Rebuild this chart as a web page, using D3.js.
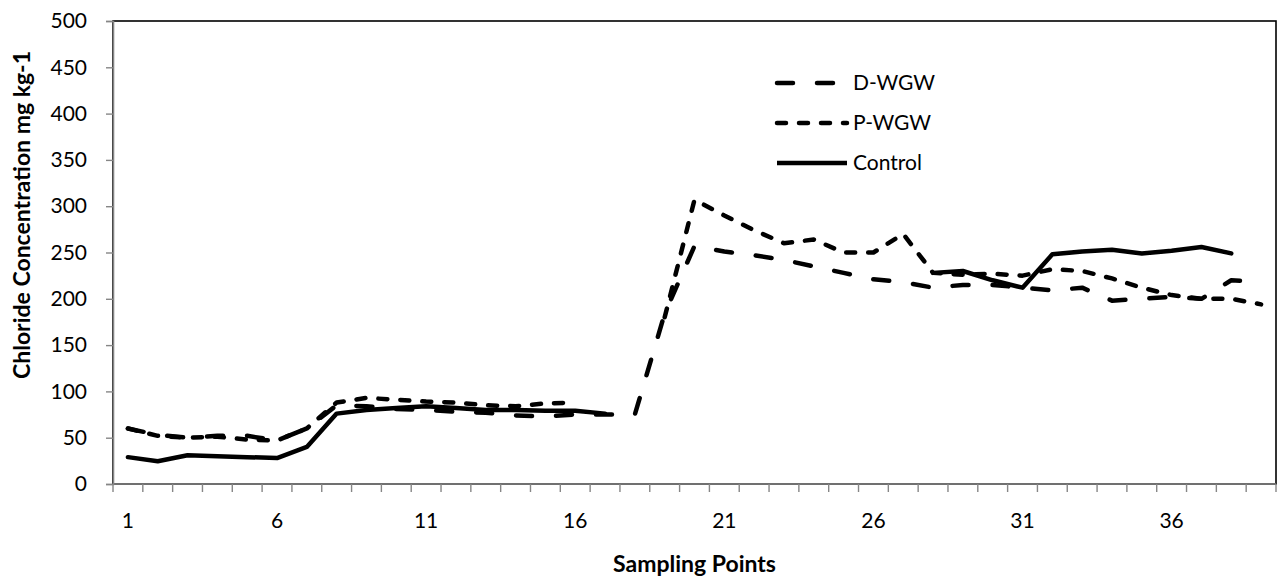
<!DOCTYPE html>
<html><head><meta charset="utf-8">
<script src="https://cdn.jsdelivr.net/npm/d3@7"></script>
<style>body{margin:0;background:#fff} svg{display:block}</style>
</head><body><svg id="c" width="1282" height="581"></svg>
<script>
const categories = [1,2,3,4,5,6,7,8,9,10,11,12,13,14,15,16,17,18,19,20,21,22,23,24,25,26,27,28,29,30,31,32,33,34,35,36,37,38,39];
const xTickLabels = [1,6,11,16,21,26,31,36];
const yTickValues = [0,50,100,150,200,250,300,350,400,450,500];
const seriesNames = ["D-WGW","P-WGW","Control"];
const dwgw = [60,53,50,52,52,47,60,85,84,81,80,78,77,74,73,75,75,75,184,257,251,247,242,235,228,221,218,212,215,215,212,209,212,198,200,202,200,220,218];
const pwgw = [60,52,50,51,48,47,60,88,93,91,89,88,85,84,87,88,null,null,180,307,290,274,260,264,250,250,270,228,226,227,225,232,230,222,212,204,200,200,194];
const control = [29,24.5,31,30,29,28,40,76,80,82,84,82,80,80,79,79,76,null,null,null,null,null,null,null,null,null,null,228,230,220,212,248,251,253,249,252,256,249,null];

const L = 113, R = 1276, T = 21, B = 484;
const svg = d3.select("#c");
const font = "Lato, 'Open Sans', sans-serif";

const x = d3.scaleBand().domain(categories).range([L, R]).paddingInner(0).paddingOuter(0);
const y = d3.scaleLinear().domain([0, 500]).range([B, T]);

// plot border
svg.append("rect").attr("x", L).attr("y", T).attr("width", R - L).attr("height", B - T)
  .attr("fill", "none").attr("stroke", "#000").attr("stroke-width", 1.6);

// y axis
const yAxis = d3.axisLeft(y).tickValues(yTickValues).tickSize(7).tickPadding(19).tickFormat(d3.format("d"));
const gy = svg.append("g").attr("transform", `translate(${L},0)`).call(yAxis);
gy.select(".domain").attr("stroke", "#868686").attr("stroke-width", 1.6);
gy.selectAll(".tick line").attr("stroke", "#868686").attr("stroke-width", 1.4);
gy.selectAll(".tick text").attr("font-family", font).attr("font-size", 21).attr("fill", "#000");

// x axis: ticks at category boundaries, labels every 5
const boundaries = categories.map(c => x(c)).concat([R]);
const gx = svg.append("g");
gx.append("line").attr("x1", L).attr("x2", R).attr("y1", B).attr("y2", B)
  .attr("stroke", "#868686").attr("stroke-width", 1.6);
gx.selectAll("line.tk").data(boundaries).join("line").attr("class", "tk")
  .attr("x1", d => d).attr("x2", d => d).attr("y1", B).attr("y2", B + 8)
  .attr("stroke", "#868686").attr("stroke-width", 1.4);
gx.selectAll("text").data(xTickLabels).join("text")
  .attr("x", d => x(d) + x.bandwidth() / 2).attr("y", B + 44)
  .attr("text-anchor", "middle").attr("font-family", font).attr("font-size", 21).text(d => d);

// axis titles
svg.append("text").attr("x", (L + R) / 2).attr("y", 572).attr("text-anchor", "middle")
  .attr("font-family", font).attr("font-weight", "bold").attr("font-size", 23).text("Sampling Points");
svg.append("text").attr("transform", `translate(30,${215}) rotate(-90)`).attr("text-anchor", "middle")
  .attr("font-family", font).attr("font-weight", "bold").attr("font-size", 23).text("Chloride Concentration mg kg-1");

// lines
const styles = [
  { name: seriesNames[0], data: dwgw, dash: "16,24" },
  { name: seriesNames[1], data: pwgw, dash: "9,13" },
  { name: seriesNames[2], data: control, dash: null }
];
const line = d3.line()
  .defined(d => d.v != null)
  .x(d => x(d.c) + x.bandwidth() / 2)
  .y(d => y(d.v));

styles.forEach(s => {
  const pts = categories.map((c, i) => ({ c, v: s.data[i] }));
  svg.append("path").datum(pts).attr("d", line).attr("fill", "none")
    .attr("stroke", "#000").attr("stroke-width", 4.5)
    .attr("stroke-linecap", "round").attr("stroke-linejoin", "round")
    .attr("stroke-dasharray", s.dash);
});

// legend
const legY = [83, 123, 163];
styles.forEach((s, i) => {
  svg.append("line").attr("x1", 777).attr("x2", 847).attr("y1", legY[i]).attr("y2", legY[i])
    .attr("stroke", "#000").attr("stroke-width", 4.5).attr("stroke-linecap", s.dash ? "round" : "butt")
    .attr("stroke-dasharray", s.dash);
  svg.append("text").attr("x", 853).attr("y", legY[i]).attr("dy", "0.35em")
    .attr("font-family", font).attr("font-size", 21).text(s.name);
});
</script></body></html>
